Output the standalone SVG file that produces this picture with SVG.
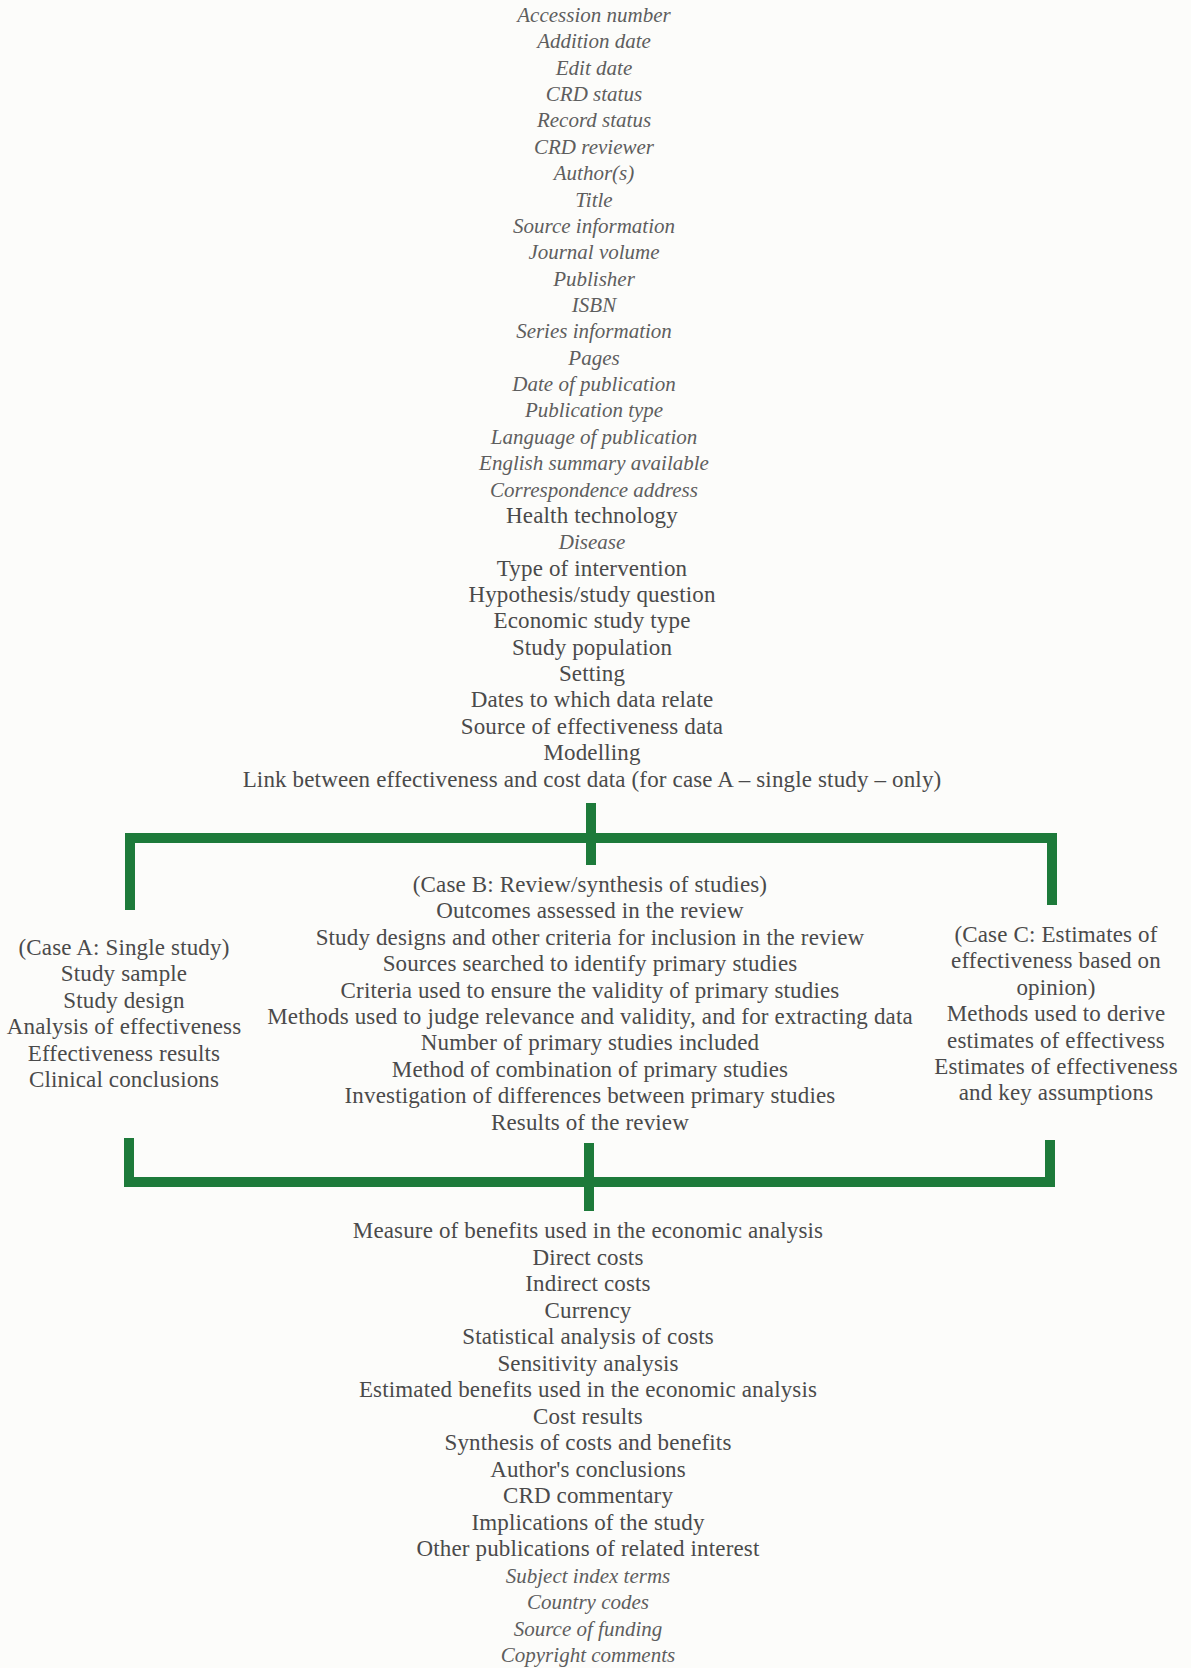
<svg xmlns="http://www.w3.org/2000/svg" width="1191" height="1668" viewBox="0 0 1191 1668">
<style>
text{font-family:"Liberation Serif","Times New Roman",serif;font-size:23px;letter-spacing:0.15px;fill:#4a4a4a;text-anchor:middle}
.i{font-style:italic;fill:#5e5e5e;font-size:21px;letter-spacing:0}
.br{fill:none;stroke:#1d7a3a;stroke-width:10}
</style>
<rect width="1191" height="1668" fill="#fcfcfa"/>
<g id="top-list">
<text x="594" y="22" class="i">Accession number</text>
<text x="594" y="48.4" class="i">Addition date</text>
<text x="594" y="74.7" class="i">Edit date</text>
<text x="594" y="101.1" class="i">CRD status</text>
<text x="594" y="127.4" class="i">Record status</text>
<text x="594" y="153.8" class="i">CRD reviewer</text>
<text x="594" y="180.2" class="i">Author(s)</text>
<text x="594" y="206.5" class="i">Title</text>
<text x="594" y="232.9" class="i">Source information</text>
<text x="594" y="259.2" class="i">Journal volume</text>
<text x="594" y="285.6" class="i">Publisher</text>
<text x="594" y="312" class="i">ISBN</text>
<text x="594" y="338.3" class="i">Series information</text>
<text x="594" y="364.7" class="i">Pages</text>
<text x="594" y="391" class="i">Date of publication</text>
<text x="594" y="417.4" class="i">Publication type</text>
<text x="594" y="443.8" class="i">Language of publication</text>
<text x="594" y="470.1" class="i">English summary available</text>
<text x="594" y="496.5" class="i">Correspondence address</text>
<text x="592" y="522.8">Health technology</text>
<text x="592" y="549.2" class="i">Disease</text>
<text x="592" y="575.6">Type of intervention</text>
<text x="592" y="601.9">Hypothesis/study question</text>
<text x="592" y="628.3">Economic study type</text>
<text x="592" y="654.6">Study population</text>
<text x="592" y="681">Setting</text>
<text x="592" y="707.4">Dates to which data relate</text>
<text x="592" y="733.7">Source of effectiveness data</text>
<text x="592" y="760.1">Modelling</text>
<text x="592" y="786.5">Link between effectiveness and cost data (for case A – single study – only)</text>
</g>
<g id="case-a">
<text x="124" y="955">(Case A: Single study)</text>
<text x="124" y="981.4">Study sample</text>
<text x="124" y="1007.8">Study design</text>
<text x="124" y="1034.2">Analysis of effectiveness</text>
<text x="124" y="1060.6">Effectiveness results</text>
<text x="124" y="1087">Clinical conclusions</text>
</g>
<g id="case-b">
<text x="590" y="892">(Case B: Review/synthesis of studies)</text>
<text x="590" y="918.4">Outcomes assessed in the review</text>
<text x="590" y="944.8">Study designs and other criteria for inclusion in the review</text>
<text x="590" y="971.2">Sources searched to identify primary studies</text>
<text x="590" y="997.6">Criteria used to ensure the validity of primary studies</text>
<text x="590" y="1024">Methods used to judge relevance and validity, and for extracting data</text>
<text x="590" y="1050.4">Number of primary studies included</text>
<text x="590" y="1076.8">Method of combination of primary studies</text>
<text x="590" y="1103.2">Investigation of differences between primary studies</text>
<text x="590" y="1129.6">Results of the review</text>
</g>
<g id="case-c">
<text x="1056" y="942">(Case C: Estimates of</text>
<text x="1056" y="968.4">effectiveness based on</text>
<text x="1056" y="994.8">opinion)</text>
<text x="1056" y="1021.2">Methods used to derive</text>
<text x="1056" y="1047.6">estimates of effectivess</text>
<text x="1056" y="1074">Estimates of effectiveness</text>
<text x="1056" y="1100.4">and key assumptions</text>
</g>
<g id="bottom-list">
<text x="588" y="1238">Measure of benefits used in the economic analysis</text>
<text x="588" y="1264.5">Direct costs</text>
<text x="588" y="1291">Indirect costs</text>
<text x="588" y="1317.5">Currency</text>
<text x="588" y="1344">Statistical analysis of costs</text>
<text x="588" y="1370.5">Sensitivity analysis</text>
<text x="588" y="1397">Estimated benefits used in the economic analysis</text>
<text x="588" y="1423.5">Cost results</text>
<text x="588" y="1450">Synthesis of costs and benefits</text>
<text x="588" y="1476.5">Author's conclusions</text>
<text x="588" y="1503">CRD commentary</text>
<text x="588" y="1529.5">Implications of the study</text>
<text x="588" y="1556">Other publications of related interest</text>
<text x="588" y="1582.5" class="i">Subject index terms</text>
<text x="588" y="1609" class="i">Country codes</text>
<text x="588" y="1635.5" class="i">Source of funding</text>
<text x="588" y="1662" class="i">Copyright comments</text>
</g>
<g id="connectors">
<path class="br" d="M130 910 V838 H1052 V905"/>
<path class="br" d="M591 803 V865"/>
<path class="br" d="M129 1138 V1182 H1050 V1140"/>
<path class="br" d="M589 1143 V1211"/>
</g>
</svg>
